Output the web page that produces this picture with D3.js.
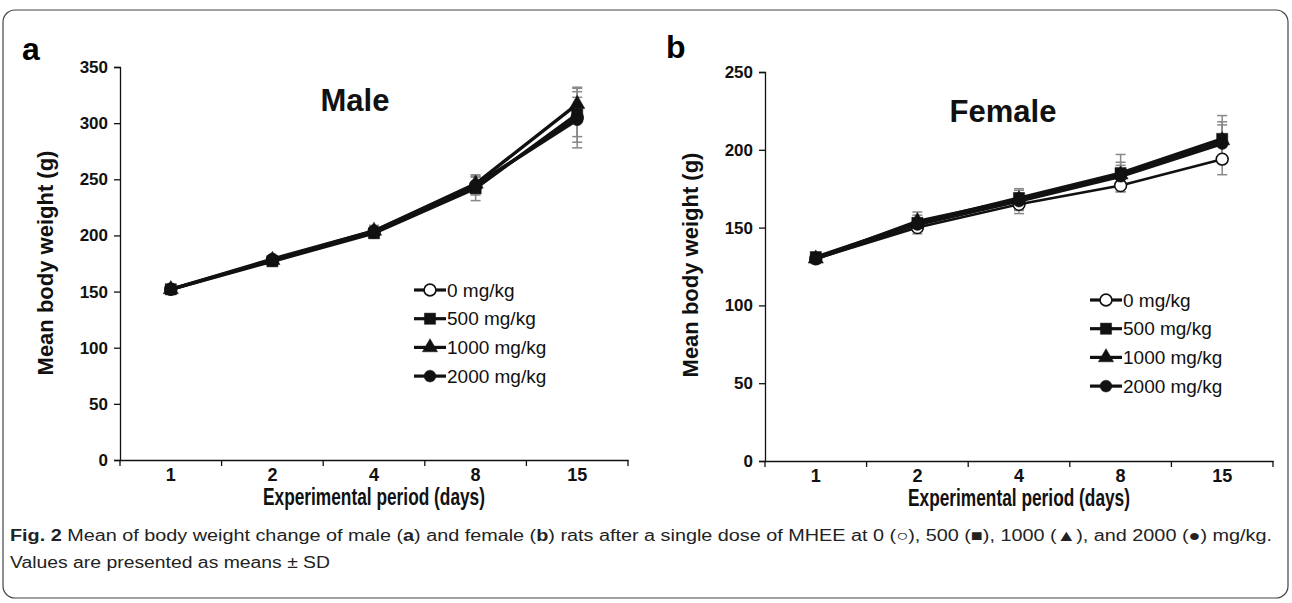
<!DOCTYPE html>
<html lang="en">
<head>
<meta charset="utf-8">
<title>Body weight</title>
<script src="https://d3js.org/d3.v7.min.js"></script>
<style>
  body { margin: 0; background: #fff; }
  .sans { font-family: 'Liberation Sans', Arial, sans-serif; }
</style>
</head>
<body>
<svg width="1292" height="603"></svg>
<script>
// ---- data ----
var days = ["1", "2", "4", "8", "15"];
var doses = ["0 mg/kg", "500 mg/kg", "1000 mg/kg", "2000 mg/kg"];
var shapes = ["openCircle", "square", "triangle", "circle"];

var maleMean = [
  [152, 178, 203, 244, 305],
  [152, 177, 202, 242, 308],
  [152, 178, 204, 246, 317],
  [152, 179, 204, 245, 303]
];
var maleSD = [
  [3, 3, 5, 8, 27],
  [3, 3, 4, 11, 20],
  [3, 3, 4, 8, 14],
  [3, 3, 5, 7, 20]
];
var femaleMean = [
  [130, 150, 165, 177, 194],
  [131, 153, 169, 185, 207],
  [130, 154, 168, 184, 206],
  [130, 152, 167, 183, 204]
];
var femaleSD = [
  [3, 4, 6, 4, 10],
  [3, 5, 5, 12, 15],
  [3, 6, 7, 8, 12],
  [3, 4, 5, 7, 12]
];
var maleTicks = [0, 50, 100, 150, 200, 250, 300, 350];
var femaleTicks = [0, 50, 100, 150, 200, 250];

var svg = d3.select("svg");

// outer frame
svg.append("rect")
  .attr("x", 3).attr("y", 10).attr("width", 1285).attr("height", 588)
  .attr("rx", 12).attr("fill", "none").attr("stroke", "#444").attr("stroke-width", 1.2);

function symbolFor(s) {
  if (s == "square") return d3.symbol(d3.symbolSquare, 125)();
  if (s == "triangle") return d3.symbol(d3.symbolTriangle, 100)();
  return d3.symbol(d3.symbolCircle, 110)();
}

function drawMarker(g, s, x, y) {
  g.append("path")
    .attr("d", symbolFor(s))
    .attr("transform", "translate(" + x + "," + y + ")")
    .attr("fill", s == "openCircle" ? "#fff" : "#111")
    .attr("stroke", "#111")
    .attr("stroke-width", s == "openCircle" ? 1.6 : 0.5);
}

function panel(o) {
  var x = d3.scaleBand().domain(days).range([o.left, o.right]).padding(0);
  var y = d3.scaleLinear().domain([0, o.max]).range([o.bottom, o.top]);
  var g = svg.append("g");

  // panel letter
  g.append("text").attr("class", "sans")
    .attr("x", o.letterX).attr("y", o.letterY)
    .attr("font-size", 32).attr("font-weight", "bold").text(o.letter);

  // y axis
  var ya = g.append("g").attr("transform", "translate(" + o.left + ",0)")
    .call(d3.axisLeft(y).tickValues(o.ticks).tickSize(6).tickPadding(6));
  ya.select(".domain").attr("stroke", "#111").attr("stroke-width", 1.3);
  ya.selectAll(".tick line").attr("stroke", "#111").attr("stroke-width", 1.3);
  ya.selectAll("text").attr("class", "sans").attr("font-size", 17)
    .attr("font-weight", "bold").attr("fill", "#111");

  // x axis: labels centred on bands, ticks on band edges
  var xa = g.append("g").attr("transform", "translate(0," + o.bottom + ")")
    .call(d3.axisBottom(x).tickSize(0).tickPadding(o.tickPad));
  xa.select(".domain").attr("stroke", "#111").attr("stroke-width", 1.3);
  xa.selectAll("text").attr("class", "sans").attr("font-size", 18)
    .attr("font-weight", "bold").attr("fill", "#111");
  var edges = days.map(function (d) { return x(d); }).concat([x.range()[1]]);
  g.selectAll(".edge").data(edges).enter().append("line")
    .attr("x1", function (d) { return d; }).attr("x2", function (d) { return d; })
    .attr("y1", o.bottom).attr("y2", o.bottom + 6)
    .attr("stroke", "#111").attr("stroke-width", 1.3);

  // axis titles
  g.append("text").attr("class", "sans")
    .attr("x", (o.left + o.right) / 2 - 111).attr("y", o.bottom + o.titlePad)
    .attr("font-size", 23).attr("font-weight", "bold")
    .attr("textLength", 222).attr("lengthAdjust", "spacingAndGlyphs")
    .attr("fill", "#111").text("Experimental period (days)");
  g.append("text").attr("class", "sans")
    .attr("transform", "translate(" + o.yTitleX + "," + o.yTitleY + ") rotate(-90)")
    .attr("text-anchor", "middle").attr("font-size", 22).attr("font-weight", "bold")
    .attr("fill", "#111").text("Mean body weight (g)");

  // chart title
  g.append("text").attr("class", "sans")
    .attr("x", o.titleX).attr("y", o.titleY).attr("text-anchor", "middle")
    .attr("font-size", 31).attr("font-weight", "bold").attr("fill", "#111").text(o.title);

  var cx = function (i) { return x(days[i]) + x.bandwidth() / 2; };

  // error bars
  o.mean.forEach(function (m, s) {
    m.forEach(function (v, i) {
      var sd = o.sd[s][i];
      var eb = g.append("g").attr("stroke", "#888").attr("stroke-width", 1.5);
      eb.append("line").attr("x1", cx(i)).attr("x2", cx(i)).attr("y1", y(v - sd)).attr("y2", y(v + sd));
      eb.append("line").attr("x1", cx(i) - 5).attr("x2", cx(i) + 5).attr("y1", y(v - sd)).attr("y2", y(v - sd));
      eb.append("line").attr("x1", cx(i) - 5).attr("x2", cx(i) + 5).attr("y1", y(v + sd)).attr("y2", y(v + sd));
    });
  });

  // lines
  var line = d3.line().x(function (d, i) { return cx(i); }).y(function (d) { return y(d); });
  o.mean.forEach(function (m, s) {
    g.append("path").attr("d", line(m)).attr("fill", "none")
      .attr("stroke", "#111").attr("stroke-width", s == 0 ? 2.6 : 3.4);
  });
  // markers
  o.mean.forEach(function (m, s) {
    m.forEach(function (v, i) { drawMarker(g, shapes[s], cx(i), y(v)); });
  });

  // legend
  doses.forEach(function (d, s) {
    var ly = o.legY + s * 28.7;
    g.append("line").attr("x1", o.legX).attr("x2", o.legX + 32)
      .attr("y1", ly).attr("y2", ly).attr("stroke", "#111").attr("stroke-width", 3.2);
    drawMarker(g, shapes[s], o.legX + 16, ly);
    g.append("text").attr("class", "sans")
      .attr("x", o.legX + 33).attr("y", ly).attr("dy", "0.35em")
      .attr("font-size", 19).attr("fill", "#111").text(d);
  });
}

panel({
  letter: "a", letterX: 22, letterY: 60, title: "Male", titleX: 355, titleY: 111,
  left: 120, right: 628, top: 67, bottom: 460, max: 350, ticks: maleTicks,
  mean: maleMean, sd: maleSD, tickPad: 8, titlePad: 45,
  yTitleX: 53, yTitleY: 263, legX: 414, legY: 290
});
panel({
  letter: "b", letterX: 666, letterY: 58, title: "Female", titleX: 1003, titleY: 122,
  left: 765, right: 1273, top: 72, bottom: 461, max: 250, ticks: femaleTicks,
  mean: femaleMean, sd: femaleSD, tickPad: 8, titlePad: 45,
  yTitleX: 698, yTitleY: 265, legX: 1090, legY: 300
});

// caption
var cap = svg.append("text").attr("class", "sans").attr("x", 10).attr("y", 541)
  .attr("font-size", 16).attr("fill", "#222")
  .attr("textLength", 1262).attr("lengthAdjust", "spacingAndGlyphs");
cap.append("tspan").attr("font-weight", "bold").text("Fig. 2");
cap.append("tspan").text(" Mean of body weight change of male (");
cap.append("tspan").attr("font-weight", "bold").text("a");
cap.append("tspan").text(") and female (");
cap.append("tspan").attr("font-weight", "bold").text("b");
cap.append("tspan").text(") rats after a single dose of MHEE at 0 (\u25CB), 500 (\u25A0), 1000 (\u25B2), and 2000 (\u25CF) mg/kg.");
svg.append("text").attr("class", "sans").attr("x", 10).attr("y", 568)
  .attr("font-size", 16).attr("fill", "#222")
  .attr("textLength", 320).attr("lengthAdjust", "spacingAndGlyphs")
  .text("Values are presented as means \u00B1 SD");
</script>
</body>
</html>
